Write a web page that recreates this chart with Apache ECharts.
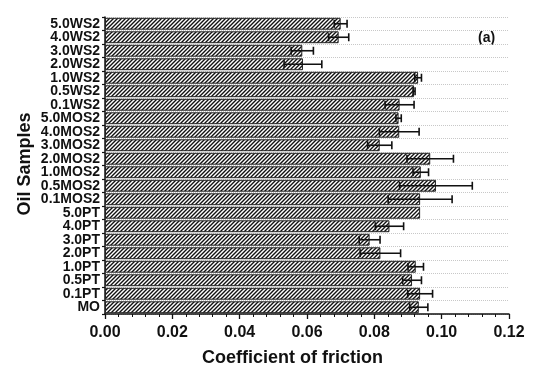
<!DOCTYPE html>
<html>
<head>
<meta charset="utf-8">
<script src="https://cdn.jsdelivr.net/npm/echarts@6/dist/echarts.min.js"></script>
<style>html,body{margin:0;padding:0;background:#fff}#c{width:550px;height:384px}</style>
</head>
<body>
<div id="c"></div>
<script>
// Categories, top to bottom
const categories = ['5.0WS2','4.0WS2','3.0WS2','2.0WS2','1.0WS2','0.5WS2','0.1WS2',
  '5.0MOS2','4.0MOS2','3.0MOS2','2.0MOS2','1.0MOS2','0.5MOS2','0.1MOS2',
  '5.0PT','4.0PT','3.0PT','2.0PT','1.0PT','0.5PT','0.1PT','MO'];
// Mean coefficient of friction
const cofMean = [0.0700,0.0694,0.0586,0.0588,0.0930,0.0918,0.0875,
  0.0872,0.0874,0.0816,0.0966,0.0938,0.0983,0.0936,
  0.0936,0.0845,0.0786,0.0818,0.0923,0.0912,0.0936,0.0932];
// Error (± half-width)
const cofErr = [0.0019,0.0030,0.0033,0.0056,0.0010,0.0003,0.0043,
  0.0008,0.0059,0.0036,0.0069,0.0023,0.0108,0.0095,
  0.0000,0.0042,0.0031,0.0060,0.0023,0.0028,0.0037,0.0027];
const xTicks = {min: 0, max: 0.12, interval: 0.02};

// hatch pattern
function makeHatch() {
  const s = 4;
  const cv = document.createElement('canvas');
  cv.width = s; cv.height = s;
  const ctx = cv.getContext('2d');
  ctx.fillStyle = '#ffffff';
  ctx.fillRect(0, 0, s, s);
  ctx.strokeStyle = '#111';
  ctx.lineWidth = 1.4;
  ctx.beginPath();
  ctx.moveTo(-1, s + 1); ctx.lineTo(s + 1, -1);
  ctx.moveTo(-1, 1); ctx.lineTo(1, -1);
  ctx.moveTo(s - 1, s + 1); ctx.lineTo(s + 1, s - 1);
  ctx.stroke();
  return cv;
}

const chart = echarts.init(document.getElementById('c'), null, {renderer: 'canvas'});
const font = '"Liberation Sans", Arial, sans-serif';

const option = {
  animation: false,
  backgroundColor: '#fff',
  grid: {left: 105, right: 41, top: 17, bottom: 70, containLabel: false},
  xAxis: {
    type: 'value',
    min: xTicks.min, max: xTicks.max, interval: xTicks.interval,
    axisLine: {show: true, lineStyle: {color: '#111', width: 1.5}},
    axisTick: {show: true, length: 5, lineStyle: {color: '#111', width: 1.3}},
    minorTick: {show: true, splitNumber: 5, length: 3, lineStyle: {color: '#111', width: 1}},
    splitLine: {show: false},
    axisLabel: {
      fontFamily: font, fontWeight: 'bold', fontSize: 16, color: '#111', margin: 11,
      formatter: v => v.toFixed(2)
    }
  },
  yAxis: {
    type: 'category',
    data: categories,
    inverse: true,
    axisLine: {show: true, lineStyle: {color: '#111', width: 1.5}},
    axisTick: {show: true, length: 3, lineStyle: {color: '#111', width: 1.2}},
    splitLine: {show: true, lineStyle: {color: '#c8c8c8', type: 'dotted', width: 1}},
    axisLabel: {
      interval: 0,
      fontFamily: font, fontWeight: 'bold', fontSize: 14, color: '#111', margin: 5,
      lineHeight: 13
    }
  },
  graphic: [
    {type: 'text', left: 202, top: 349, style: {text: 'Coefficient of friction', font: 'bold 18px ' + font, fill: '#111'}},
    {type: 'text', x: 25, y: 164, rotation: Math.PI / 2, style: {text: 'Oil Samples', font: 'bold 18px ' + font, fill: '#111', align: 'center', verticalAlign: 'middle'}},
    {type: 'text', left: 478, top: 31, style: {text: '(a)', font: 'bold 14px ' + font, fill: '#111'}}
  ],
  series: [
    {
      type: 'bar',
      data: cofMean,
      barCategoryGap: '12%',
      itemStyle: {
        color: {image: makeHatch(), repeat: 'repeat'},
        borderColor: '#222', borderWidth: 1
      }
    },
    {
      type: 'custom',
      data: cofMean.map((v, i) => [v, i, cofErr[i]]),
      encode: {x: 0, y: 1},
      z: 10,
      renderItem: function (params, api) {
        const v = api.value(0), i = api.value(1), e = api.value(2);
        if (!e) return null;
        const p1 = api.coord([v - e, i]);
        const p2 = api.coord([v + e, i]);
        const h = 4;
        const st = {stroke: '#111', lineWidth: 1.6};
        return {
          type: 'group',
          children: [
            {type: 'line', shape: {x1: p1[0], y1: p1[1], x2: p2[0], y2: p2[1]}, style: st},
            {type: 'line', shape: {x1: p1[0], y1: p1[1] - h, x2: p1[0], y2: p1[1] + h}, style: st},
            {type: 'line', shape: {x1: p2[0], y1: p2[1] - h, x2: p2[0], y2: p2[1] + h}, style: st}
          ]
        };
      }
    }
  ]
};
chart.setOption(option);
</script>
</body>
</html>
